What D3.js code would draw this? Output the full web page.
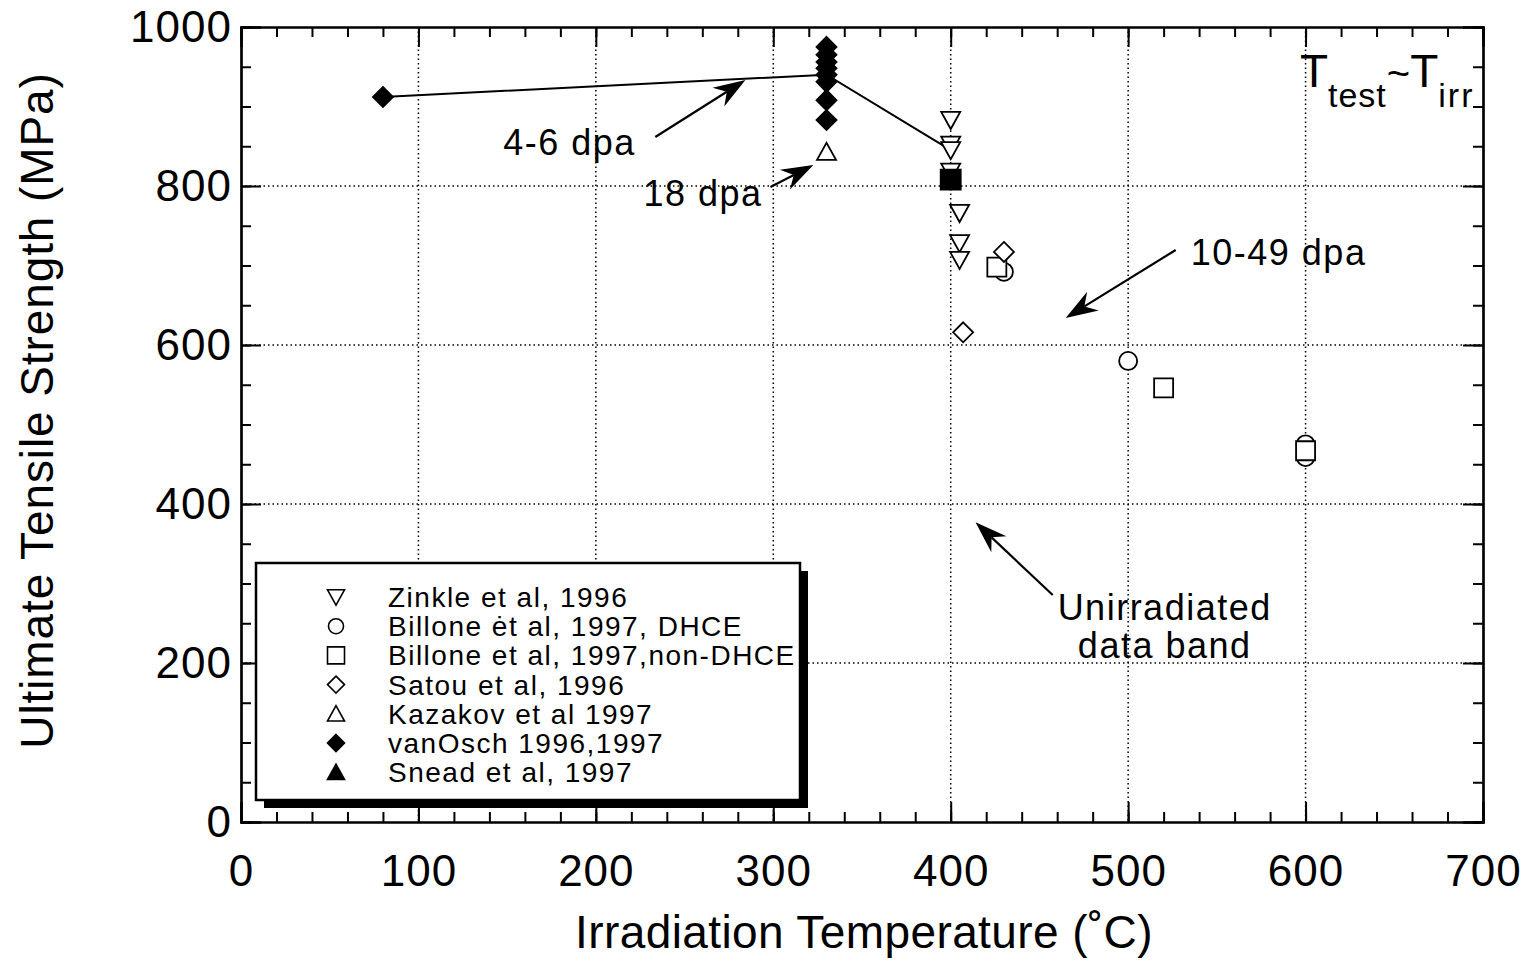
<!DOCTYPE html>
<html>
<head>
<meta charset="utf-8">
<script src="https://cdn.jsdelivr.net/npm/d3@7"></script>
<style>
  body { margin: 0; background: #fff; }
  text { font-family: "Liberation Sans", Arial, Helvetica, sans-serif; fill: #000; }
</style>
</head>
<body>
<div id="chart"></div>
<script>
let width = 1529;
let height = 960;

// data (T in C, UTS in MPa)
const zinkleT   = [400, 400, 400, 400, 405, 405, 405];
const zinkleUTS = [883, 852, 845, 818, 766, 728, 707];
const billoneDhceT   = [430, 500, 600, 600];
const billoneDhceUTS = [692, 580, 475, 459];
const billoneNonT   = [426, 520, 600];
const billoneNonUTS = [698, 546, 467];
const satouT   = [407, 430];
const satouUTS = [616, 717];
const kazakovT   = [330];
const kazakovUTS = [843];
const vanOschT   = [80, 330, 330, 330, 330, 330, 330, 330, 330];
const vanOschUTS = [912, 975, 965, 956, 948, 940, 931, 908, 883];
const sneadT   = [400];
const sneadUTS = [808];
const trendT   = [80, 330, 400];
const trendUTS = [912, 940, 845];

const xTicks = [0, 100, 200, 300, 400, 500, 600, 700];
const yTicks = [0, 200, 400, 600, 800, 1000];
const legendNames = ["Zinkle et al, 1996", "Billone ėt al, 1997, DHCE", "Billone et al, 1997,non-DHCE",
  "Satou et al, 1996", "Kazakov et al 1997", "vanOsch 1996,1997", "Snead et al, 1997"];

const margin = {left: 241, right: 46, top: 27, bottom: 138};

const x = d3.scaleLinear().domain([0, 700]).range([margin.left, width - margin.right]);
const y = d3.scaleLinear().domain([0, 1000]).range([height - margin.bottom, margin.top]);

const svg = d3.select("#chart").append("svg")
  .attr("width", width).attr("height", height);

// grid
const grid = svg.append("g").attr("stroke", "#000").attr("stroke-width", 1.5)
  .attr("stroke-dasharray", "1.5,3");
grid.selectAll(".gx").data(xTicks.slice(1, -1)).join("line")
  .attr("x1", d => x(d)).attr("x2", d => x(d))
  .attr("y1", y(1000)).attr("y2", y(0));
grid.selectAll(".gy").data(yTicks.slice(1, -1)).join("line")
  .attr("x1", x(0)).attr("x2", x(700))
  .attr("y1", d => y(d)).attr("y2", d => y(d));

// axes, inward ticks on all four sides
const xMinor = d3.range(0, 701, 20), yMinor = d3.range(0, 1001, 50);
function addAxis(axis, tr) {
  const g = svg.append("g").attr("transform", tr).call(axis);
  g.selectAll("line").attr("stroke-width", 2);
  g.select(".domain").attr("stroke-width", 2.2);
  return g;
}
addAxis(d3.axisBottom(x).tickValues(xMinor).tickSize(-10).tickFormat(""), `translate(0,${y(0)})`);
addAxis(d3.axisTop(x).tickValues(xMinor).tickSize(-10).tickFormat(""), `translate(0,${y(1000)})`);
addAxis(d3.axisLeft(y).tickValues(yMinor).tickSize(-10).tickFormat(""), `translate(${x(0)},0)`);
addAxis(d3.axisRight(y).tickValues(yMinor).tickSize(-10).tickFormat(""), `translate(${x(700)},0)`);
addAxis(d3.axisTop(x).tickValues(xTicks).tickSize(-20).tickFormat(""), `translate(0,${y(1000)})`);
addAxis(d3.axisRight(y).tickValues(yTicks).tickSize(-20).tickFormat(""), `translate(${x(700)},0)`);

const xa = addAxis(d3.axisBottom(x).tickValues(xTicks).tickSize(-20).tickPadding(33).tickFormat(d3.format("d")),
  `translate(0,${y(0)})`);
xa.selectAll("text").style("font-size", "44px").style("letter-spacing", "1px");
const ya = addAxis(d3.axisLeft(y).tickValues(yTicks).tickSize(-20).tickPadding(9).tickFormat(d3.format("d")),
  `translate(${x(0)},0)`);
ya.selectAll("text").style("font-size", "44px").style("letter-spacing", "1px");

// axis titles
svg.append("text")
  .attr("x", (x(0) + x(700)) / 2 + 2).attr("y", 948)
  .attr("text-anchor", "middle").style("font-size", "46px").style("letter-spacing", "0.4px")
  .text("Irradiation Temperature (\u02DAC)");
svg.append("text")
  .attr("transform", `translate(53,${(y(0) + y(1000)) / 2 - 14}) rotate(-90)`)
  .attr("text-anchor", "middle").style("font-size", "46px").style("letter-spacing", "0.9px")
  .text("Ultimate Tensile Strength (MPa)");

// marker shapes
const shapes = {
  tdown: r => `M${-r},${-r * 0.85}L${r},${-r * 0.85}L0,${r * 0.95}Z`,
  tup: r => `M${-r},${r * 0.85}L${r},${r * 0.85}L0,${-r * 0.95}Z`,
  square: r => `M${-r},${-r}H${r}V${r}H${-r}Z`,
  diamond: r => `M0,${-r}L${r},0L0,${r}L${-r},0Z`,
  circle: r => `M${-r},0A${r},${r} 0 1,1 ${r},0A${r},${r} 0 1,1 ${-r},0Z`
};

// trend line through vanOsch data
svg.append("path")
  .datum(d3.zip(trendT, trendUTS))
  .attr("fill", "none").attr("stroke", "#000").attr("stroke-width", 2)
  .attr("d", d3.line().x(d => x(d[0])).y(d => y(d[1])));

function series(ts, vs, shape, r, filled) {
  svg.append("g").selectAll("path").data(d3.zip(ts, vs)).join("path")
    .attr("transform", d => `translate(${x(d[0])},${y(d[1])})`)
    .attr("d", shapes[shape](r))
    .attr("fill", filled ? "#000" : "#fff")
    .attr("stroke", "#000").attr("stroke-width", 1.8);
}
series(billoneDhceT, billoneDhceUTS, "circle", 9, false);
series(billoneNonT, billoneNonUTS, "square", 9.5, false);
series(satouT, satouUTS, "diamond", 10, false);
series(zinkleT, zinkleUTS, "tdown", 9.5, false);
series(kazakovT, kazakovUTS, "tup", 9.5, false);
series(sneadT, sneadUTS, "square", 10, true);
series(vanOschT, vanOschUTS, "diamond", 10, true);

// annotations: text + arrows in data units
const labels = [
  {t: 147.8, v: 839, text: "4-6 dpa", anchor: "start"},
  {t: 226.8, v: 775, text: "18 dpa", anchor: "start"},
  {t: 535.3, v: 700.6, text: "10-49 dpa", anchor: "start"},
  {t: 520.6, v: 254, text: "Unirradiated", anchor: "middle"},
  {t: 520.6, v: 206, text: "data band", anchor: "middle"}
];
svg.append("g").selectAll("text").data(labels).join("text")
  .attr("x", d => x(d.t)).attr("y", d => y(d.v))
  .attr("text-anchor", d => d.anchor).style("font-size", "36px").style("letter-spacing", "1.5px")
  .text(d => d.text);

const arrows = [
  {t0: 233.5, v0: 861.6, t1: 284.3, v1: 933.3},
  {t0: 298.4, v0: 798.7, t1: 322.6, v1: 826.4},
  {t0: 526.8, v0: 719.5, t1: 464.8, v1: 634},
  {t0: 457.5, v0: 285.5, t1: 414, v1: 377}
];
const ag = svg.append("g");
arrows.forEach(a => {
  const x0 = x(a.t0), y0 = y(a.v0), x1 = x(a.t1), y1 = y(a.v1);
  const ang = Math.atan2(y1 - y0, x1 - x0);
  const L = 32, W = 11, N = 22;
  const c = Math.cos(ang), s = Math.sin(ang);
  const pt = (along, side) => [x1 - along * c - side * s, y1 - along * s + side * c];
  const nb = pt(N, 0);
  ag.append("line").attr("x1", x0).attr("y1", y0).attr("x2", nb[0]).attr("y2", nb[1])
    .attr("stroke", "#000").attr("stroke-width", 2.2);
  ag.append("path")
    .attr("d", "M" + [pt(0, 0), pt(L, W), pt(N, 0), pt(L, -W)].map(p => p.join(",")).join("L") + "Z")
    .attr("fill", "#000");
});

// T_test ~ T_irr
const tt = svg.append("text").attr("x", x(596.8)).attr("y", y(924.5)).style("font-size", "46px");
tt.append("tspan").text("T");
tt.append("tspan").attr("dy", 20).style("font-size", "34px").style("letter-spacing", "1px").text("test");
tt.append("tspan").attr("dy", -20).style("font-size", "40px").text("~");
tt.append("tspan").text("T");
tt.append("tspan").attr("dy", 20).style("font-size", "34px").style("letter-spacing", "2px").text("irr");

// legend
const lg = svg.append("g").attr("transform", "translate(256,563)");
const lw = 544, lh = 237;
lg.append("rect").attr("x", 8).attr("y", 8).attr("width", lw).attr("height", lh).attr("fill", "#000");
lg.append("rect").attr("width", lw).attr("height", lh).attr("fill", "#fff")
  .attr("stroke", "#000").attr("stroke-width", 2.5);
const legendShapes = [["tdown", false], ["circle", false], ["square", false], ["diamond", false],
  ["tup", false], ["diamond", true], ["tup", true]];
const row = lg.selectAll(".row").data(legendNames).join("g")
  .attr("transform", (d, i) => `translate(0,${34 + i * 29.2})`);
row.append("path")
  .attr("transform", "translate(80,0)")
  .attr("d", (d, i) => shapes[legendShapes[i][0]](legendShapes[i][0] === "circle" ? 7.5 : 8.5))
  .attr("fill", (d, i) => legendShapes[i][1] ? "#000" : "#fff")
  .attr("stroke", "#000").attr("stroke-width", 1.6);
row.append("text").attr("x", 132).attr("y", 10).style("font-size", "28px").style("letter-spacing", "1.5px")
  .text(d => d);
</script>
</body>
</html>
